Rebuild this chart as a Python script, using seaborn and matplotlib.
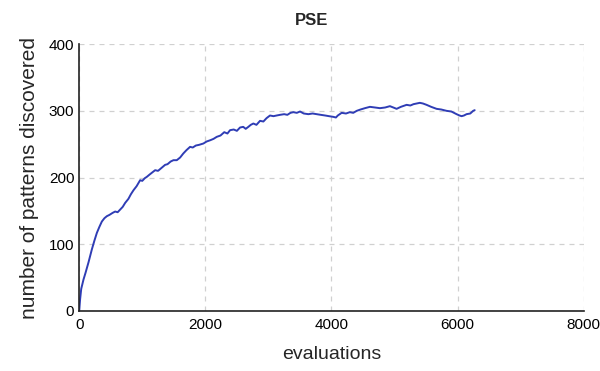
import numpy as np
import pandas as pd
import matplotlib
matplotlib.use("Agg")
import matplotlib.pyplot as plt
import seaborn as sns
from matplotlib.ticker import MultipleLocator

# values
evaluations = [
    0, 15, 32, 50, 68, 100, 148, 200, 240, 280,
    320, 359, 400, 438, 480, 530, 570, 610, 650, 690,
    729, 780, 820, 861, 910, 966, 1000, 1040, 1072, 1110,
    1150, 1204, 1250, 1300, 1362, 1400, 1450, 1494, 1547, 1600,
    1650, 1700, 1758, 1800, 1850, 1900, 1969, 2020, 2080, 2130,
    2181, 2240, 2300, 2350, 2392, 2450, 2500, 2550, 2600, 2640,
    2682, 2720, 2761, 2810, 2867, 2920, 2970, 3025, 3080, 3130,
    3184, 3250, 3300, 3350, 3395, 3450, 3501, 3560, 3633, 3700,
    3765, 3830, 3900, 3960, 4028, 4070, 4100, 4161, 4230, 4290,
    4345, 4400, 4460, 4530, 4609, 4690, 4768, 4850, 4926, 4980,
    5032, 5100, 5191, 5250, 5300, 5350, 5401, 5450, 5507, 5580,
    5666, 5740, 5824, 5900, 5983, 6030, 6062, 6100, 6141, 6200,
    6246, 6270,
]
patterns = [
    0, 18, 33, 40, 47, 57, 73, 92, 105, 117,
    126, 134, 139, 142, 144, 147, 149, 148, 152, 156,
    162, 168, 175, 181, 187, 196, 195, 199, 201, 204,
    207, 211, 210, 214, 219, 220, 224, 226, 226, 230,
    236, 241, 246, 245, 248, 249, 251, 254, 256, 258,
    261, 263, 268, 266, 271, 272, 270, 275, 276, 273,
    276, 279, 281, 279, 285, 284, 289, 293, 292, 293,
    294, 295, 294, 297, 298, 297, 299, 296, 295, 296,
    295, 294, 293, 292, 291, 290, 293, 297, 296, 298,
    297, 300, 302, 304, 306, 305, 304, 305, 307, 305,
    303, 306, 309, 308, 310, 311, 312, 311, 309, 306,
    303, 302, 300, 299, 295, 293, 292, 293, 295, 296,
    300, 301,
]

df = pd.DataFrame({"evaluations": evaluations, "patterns": patterns})

sns.set_style("white")
plt.rcParams['font.family'] = ['Liberation Sans', 'DejaVu Sans']

fig = plt.figure(figsize=(6, 3.71), dpi=100)
ax = fig.add_axes([0.132, 0.162, 0.841, 0.719])

sns.lineplot(data=df, x="evaluations", y="patterns", color="#2f3db5",
             linewidth=1.4, ax=ax)

ax.set_xlim(0, 8000)
ax.set_ylim(0, 400)
ax.xaxis.set_major_locator(MultipleLocator(2000))
ax.xaxis.set_minor_locator(MultipleLocator(1000))
ax.yaxis.set_major_locator(MultipleLocator(100))
ax.yaxis.set_minor_locator(MultipleLocator(50))

ax.grid(True, which="major", linestyle=(0, (4, 4)), color="#d0d0d0", linewidth=0.9)
ax.set_axisbelow(True)

for side in ["top", "right"]:
    ax.spines[side].set_visible(False)
for side in ["left", "bottom"]:
    ax.spines[side].set_color("#222222")
    ax.spines[side].set_linewidth(1.2)

ax.tick_params(which="major", direction="in", length=4, width=1, colors="#222222",
               labelsize=11, labelcolor="black")
ax.tick_params(which="minor", direction="in", length=2.5, width=0.8, colors="#222222")
ax.tick_params(axis="x", pad=5)

ax.set_xlabel("evaluations", fontsize=14, labelpad=10)
ax.set_ylabel("number of patterns discovered", fontsize=15, labelpad=7)
ax.set_title("PSE", fontsize=12, fontweight="bold", x=0.46, pad=14)

plt.savefig("out.png", dpi=100)
